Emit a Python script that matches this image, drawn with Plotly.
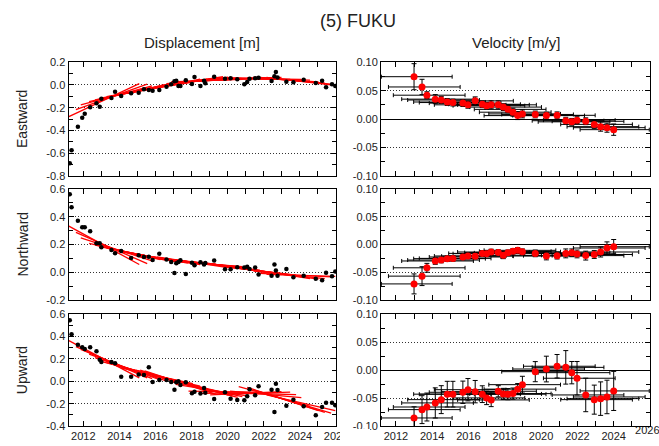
import plotly.graph_objects as go

# ---------------- data ----------------
disp_t = [2011.25, 2011.35, 2011.70, 2011.94, 2012.08, 2012.38, 2012.73, 2012.91, 2013.00, 2013.56,
          2013.76, 2014.10, 2014.65, 2015.07, 2015.36, 2015.63, 2015.84, 2016.21, 2016.61, 2016.87,
          2017.05, 2017.15, 2017.27, 2017.38, 2017.68, 2018.02, 2018.16, 2018.49, 2018.69, 2018.76,
          2019.25, 2019.85, 2020.16, 2020.53, 2020.92, 2021.08, 2021.21, 2021.52, 2021.71, 2022.43,
          2022.59, 2022.67, 2022.76, 2023.25, 2023.64, 2024.21, 2024.88, 2025.23, 2025.45, 2025.78,
          2025.96]
disp_east = [-0.690, -0.576, -0.368, -0.289, -0.253, -0.197, -0.162, -0.191, -0.121, -0.115,
             -0.059, -0.097, -0.074, -0.068, -0.038, -0.044, -0.050, -0.044, -0.015, 0.006,
             0.032, 0.038, -0.009, -0.009, 0.041, 0.009, 0.070, -0.009, 0.038, 0.015,
             0.073, 0.055, 0.059, 0.050, 0.006, 0.026, 0.055, 0.059, 0.064, 0.035,
             0.076, 0.114, 0.067, 0.029, 0.023, 0.047, 0.017, 0.038, -0.020, 0.006,
             -0.009]
disp_north = [0.562, 0.468, 0.372, 0.324, 0.324, 0.295, 0.209, 0.209, 0.180, 0.161,
              0.137, 0.154, 0.103, 0.122, 0.110, 0.112, 0.089, 0.134, 0.091, 0.074,
              -0.005, 0.065, 0.074, 0.087, -0.012, 0.069, 0.050, 0.072, 0.055, 0.067,
              0.084, 0.022, 0.022, 0.036, 0.034, 0.039, 0.024, 0.034, -0.017, -0.026,
              0.055, 0.012, -0.026, 0.024, -0.036, -0.026, -0.046, -0.057, -0.003, -0.029,
              0.005]
disp_up = [0.546, 0.421, 0.328, 0.305, 0.290, 0.305, 0.269, 0.194, 0.173, 0.173,
           0.161, 0.042, 0.042, 0.060, 0.057, 0.126, -0.006, 0.012, 0.012, -0.006,
           -0.075, -0.009, 0.000, -0.033, -0.009, -0.107, -0.093, -0.110, -0.060, -0.102,
           -0.158, -0.098, -0.155, -0.167, -0.170, -0.134, -0.071, -0.125, -0.045, -0.075,
           -0.275, -0.021, -0.078, -0.218, -0.164, -0.224, -0.304, -0.230, -0.191, -0.191,
           -0.215]

vel_t = [2013.00, 2013.44, 2013.71, 2014.17, 2014.50, 2014.83, 2015.14, 2015.69, 2015.97, 2016.37,
         2016.76, 2017.00, 2017.25, 2017.64, 2017.92, 2018.17, 2018.45, 2018.71, 2018.97, 2019.68,
         2020.29, 2020.88, 2021.36, 2021.69, 2021.98, 2022.46, 2022.93, 2023.28, 2023.63, 2024.00]
vel_east = [0.0746, 0.0565, 0.042, 0.035, 0.0335, 0.030, 0.029, 0.028, 0.025, 0.032,
            0.026, 0.0235, 0.025, 0.025, 0.021, 0.017, 0.012, 0.006, 0.009, 0.008,
            0.006, 0.0065, -0.003, -0.005, -0.002, -0.004, -0.0095, -0.0135, -0.0153, -0.0188]
vel_north = [-0.071, -0.057, -0.042, -0.0297, -0.028, -0.0255, -0.025, -0.0225, -0.0207, -0.021,
             -0.016, -0.0165, -0.0135, -0.0145, -0.0195, -0.015, -0.0123, -0.0105, -0.013, -0.016,
             -0.0207, -0.0201, -0.016, -0.015, -0.017, -0.020, -0.018, -0.0135, -0.0063, -0.004]
vel_up = [-0.0856, -0.0707, -0.066, -0.0587, -0.0528, -0.043, -0.043, -0.0396, -0.035, -0.0385,
          -0.043, -0.0497, -0.0533, -0.0378, -0.0426, -0.043, -0.042, -0.034, -0.026, -0.0027,
          0.002, 0.007, 0.005, -0.0045, -0.0145, -0.0444, -0.0528, -0.051, -0.048, -0.0372]
err_east = [0.023, 0.0135, 0.006, 0.008, 0.006, 0.006, 0.006, 0.006, 0.006, 0.007,
            0.006, 0.006, 0.007, 0.007, 0.006, 0.006, 0.007, 0.007, 0.007, 0.006,
            0.006, 0.006, 0.006, 0.006, 0.006, 0.006, 0.007, 0.008, 0.008, 0.010]
err_north = [0.018, 0.017, 0.008, 0.006, 0.005, 0.005, 0.005, 0.005, 0.005, 0.005,
             0.005, 0.005, 0.005, 0.005, 0.006, 0.005, 0.005, 0.005, 0.005, 0.006,
             0.007, 0.006, 0.008, 0.007, 0.007, 0.008, 0.007, 0.009, 0.011, 0.013]
err_up = [0.020, 0.025, 0.025, 0.027, 0.025, 0.023, 0.023, 0.020, 0.020, 0.020,
          0.015, 0.012, 0.012, 0.010, 0.010, 0.010, 0.010, 0.010, 0.015, 0.018,
          0.023, 0.021, 0.030, 0.020, 0.030, 0.030, 0.026, 0.030, 0.030, 0.035]
# displacement of each windowed linear fit at its epoch
fit_east = [-0.145, -0.112, -0.097, -0.081, -0.070, -0.060, -0.050, -0.035, -0.027, -0.015,
            -0.003, 0.004, 0.010, 0.020, 0.026, 0.031, 0.035, 0.038, 0.040, 0.045,
            0.050, 0.053, 0.055, 0.055, 0.054, 0.052, 0.048, 0.044, 0.039, 0.033]
fit_north = [0.205, 0.182, 0.170, 0.153, 0.144, 0.135, 0.127, 0.114, 0.108, 0.100,
             0.093, 0.089, 0.085, 0.079, 0.074, 0.070, 0.066, 0.063, 0.060, 0.049,
             0.037, 0.025, 0.016, 0.011, 0.006, -0.003, -0.012, -0.017, -0.020, -0.022]
fit_up = [0.210, 0.180, 0.163, 0.135, 0.115, 0.100, 0.087, 0.064, 0.053, 0.037,
          0.020, 0.008, -0.005, -0.020, -0.032, -0.043, -0.055, -0.065, -0.075, -0.092,
          -0.105, -0.108, -0.108, -0.110, -0.115, -0.130, -0.152, -0.170, -0.184, -0.190]
WIN_BEFORE = 1.85   # years of data before each epoch in the fit window
WIN_AFTER = 2.10    # years of data after each epoch
DATA_START, DATA_END = 2011.20, 2025.96

row_names = ["Eastward", "Northward", "Upward"]
disp_ranges = [[-0.8, 0.2], [-0.2, 0.6], [-0.4, 0.6]]
disp_ticks = [[-0.8, -0.6, -0.4, -0.2, 0.0, 0.2],
              [-0.2, 0.0, 0.2, 0.4, 0.6],
              [-0.4, -0.2, 0.0, 0.2, 0.4, 0.6]]
vel_ticks = [-0.10, -0.05, 0.0, 0.05, 0.10]
year_ticks = [2012, 2014, 2016, 2018, 2020, 2022, 2024, 2026]

disp_series = [disp_east, disp_north, disp_up]
vel_series = [vel_east, vel_north, vel_up]
err_series = [err_east, err_north, err_up]
fit_series = [fit_east, fit_north, fit_up]

# ---------------- figure ----------------
FONT = "Liberation Sans, Arial, Helvetica, sans-serif"
XL = [68.5 / 659, 336 / 659]
XR = [381 / 659, 650 / 659]
YD = [[1 - 175.7 / 446, 1 - 62.3 / 446],
      [1 - 300 / 446, 1 - 189 / 446],
      [1 - 426 / 446, 1 - 314.3 / 446]]
XRANGE = [2011.18, 2026.0]

win_lo = [max(t - WIN_BEFORE, DATA_START) for t in vel_t]
win_hi = [min(t + WIN_AFTER, DATA_END) for t in vel_t]

fig = go.Figure()
layout = {}


def fmt(v, nd):
    return f"{v:.{nd}f}"


for r in range(3):
    for c in range(2):
        idx = r * 2 + c + 1
        xa = "x" if idx == 1 else f"x{idx}"
        ya = "y" if idx == 1 else f"y{idx}"
        if c == 0:
            sx, sy = [], []
            for t, v, f, lo, hi in zip(vel_t, vel_series[r], fit_series[r], win_lo, win_hi):
                sx += [lo, hi, None]
                sy += [f + v * (lo - t), f + v * (hi - t), None]
            fig.add_trace(go.Scatter(x=sx, y=sy, mode="lines", xaxis=xa, yaxis=ya,
                                     line=dict(color="#ff0000", width=1.3), showlegend=False))
            fig.add_trace(go.Scatter(x=disp_t, y=disp_series[r], mode="markers", xaxis=xa, yaxis=ya,
                                     marker=dict(color="black", size=4.5), showlegend=False))
        else:
            fig.add_trace(go.Scatter(
                x=vel_t, y=vel_series[r], mode="markers", xaxis=xa, yaxis=ya,
                marker=dict(color="#ff0000", size=7),
                error_x=dict(type="data", symmetric=False,
                             array=[h - t for h, t in zip(win_hi, vel_t)],
                             arrayminus=[t - l for l, t in zip(win_lo, vel_t)],
                             color="black", thickness=1, width=2),
                error_y=dict(type="data", array=err_series[r], color="black", thickness=1, width=2.5),
                showlegend=False))

        xkey = "xaxis" if idx == 1 else f"xaxis{idx}"
        ykey = "yaxis" if idx == 1 else f"yaxis{idx}"
        if r == 2:
            labels = [str(y) for y in year_ticks]
            if c == 1:
                labels[-1] = ""   # drawn as a text mark so it stays inside the page
        else:
            labels = [""] * len(year_ticks)
        layout[xkey] = dict(
            domain=XL if c == 0 else XR, anchor=ya, range=XRANGE,
            tickmode="array", tickvals=year_ticks, ticktext=labels,
            ticks="inside", ticklen=5, tickwidth=1, tickcolor="black",
            minor=dict(dtick=1, tick0=2011, ticks="inside", ticklen=5, tickcolor="black", showgrid=False),
            showline=True, linecolor="black", linewidth=1, mirror="allticks",
            showgrid=False, zeroline=False, automargin=False, ticklabeloverflow="allow",
            tickfont=dict(family=FONT, size=11, color="#222"),
        )
        if c == 0:
            tv = disp_ticks[r]
            layout[ykey] = dict(
                domain=YD[r], anchor=xa, range=disp_ranges[r],
                tickmode="array", tickvals=tv, ticktext=[fmt(v, 1) for v in tv],
                minor=dict(dtick=0.1, tick0=0, ticks="inside", ticklen=4, tickcolor="black", showgrid=False),
                zeroline=False,
            )
        else:
            layout[ykey] = dict(
                domain=YD[r], anchor=xa, range=[-0.1, 0.1],
                tickmode="array", tickvals=vel_ticks, ticktext=[fmt(v, 2) for v in vel_ticks],
                minor=dict(dtick=0.025, tick0=0, ticks="inside", ticklen=4, tickcolor="black", showgrid=False),
                zeroline=True, zerolinecolor="black", zerolinewidth=1,
            )
        layout[ykey].update(dict(
            ticks="inside", ticklen=5, tickwidth=1, tickcolor="black",
            showline=True, linecolor="black", linewidth=1, mirror="allticks",
            showgrid=True, gridcolor="#333", griddash="1px,2px", gridwidth=1,
            automargin=False, ticklabeloverflow="allow",
            tickfont=dict(family=FONT, size=11, color="#222"),
        ))

# last year label of the bottom-right panel, kept just inside the page edge
fig.add_trace(go.Scatter(
    x=[year_ticks[-1] - 0.15], y=[-0.1], xaxis="x6", yaxis="y6",
    mode="text", text=[str(year_ticks[-1])], textposition="bottom center",
    textfont=dict(family=FONT, size=11, color="#222"), cliponaxis=False,
    showlegend=False, hoverinfo="skip"))

annotations = [
    dict(text="(5) FUKU", x=358 / 659, y=1 - 21 / 446, font=dict(size=18)),
    dict(text="Displacement [m]", x=(XL[0] + XL[1]) / 2, y=1 - 42.5 / 446, font=dict(size=15)),
    dict(text="Velocity [m/y]", x=(XR[0] + XR[1]) / 2, y=1 - 42.5 / 446, font=dict(size=15)),
]
for r, name in enumerate(row_names):
    annotations.append(dict(text=name, x=22 / 659, y=(YD[r][0] + YD[r][1]) / 2,
                            textangle=-90, font=dict(size=14)))
for a in annotations:
    a.update(xref="paper", yref="paper", showarrow=False, xanchor="center", yanchor="middle")
    a["font"].update(family=FONT, color="#222")

# white area right of the left column hides the tail of its last year label (as in the original)
shapes = [dict(type="rect", xref="paper", yref="paper", layer="above",
               x0=340 / 659, x1=370 / 659, y0=0, y1=1 - 429 / 446,
               fillcolor="white", line=dict(width=0))]

fig.update_layout(
    width=659, height=446, margin=dict(l=0, r=0, t=0, b=0),
    paper_bgcolor="white", plot_bgcolor="white",
    annotations=annotations, shapes=shapes, **layout,
)

fig.write_html("out.html")
